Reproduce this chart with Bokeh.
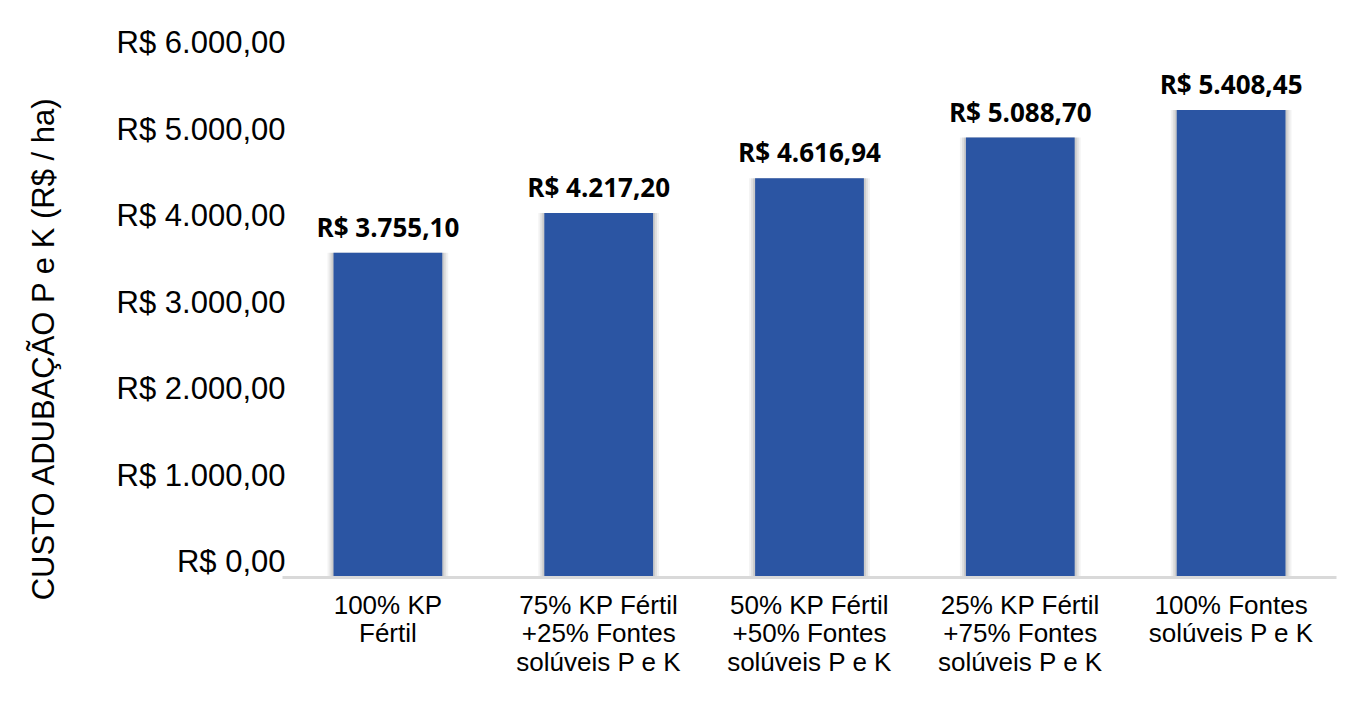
from bokeh.plotting import figure
from bokeh.models import FactorRange, Range1d, LinearAxis, FixedTicker
from bokeh.embed import file_html
from bokeh.resources import INLINE
from bokeh.core.properties import value

# ---- data -------------------------------------------------------------
categories = [
    "100% KP\nFértil",
    "75% KP Fértil\n+25% Fontes\nsolúveis P e K",
    "50% KP Fértil\n+50% Fontes\nsolúveis P e K",
    "25% KP Fértil\n+75% Fontes\nsolúveis P e K",
    "100% Fontes\nsolúveis P e K",
]
costs = [3755.10, 4217.20, 4616.94, 5088.70, 5408.45]
y_ticks = [0, 1000, 2000, 3000, 4000, 5000, 6000]
y_tick_labels = ["R$ 0,00", "R$ 1.000,00", "R$ 2.000,00", "R$ 3.000,00",
                 "R$ 4.000,00", "R$ 5.000,00", "R$ 6.000,00"]
y_title = "CUSTO ADUBAÇÃO P e K (R$ / ha)"


def brl(v):
    s = f"{v:,.2f}"
    return "R$ " + s.replace(",", "X").replace(".", ",").replace("X", ".")


value_labels = [brl(v) for v in costs]

BAR_COLOR = "#2B55A3"
BAR_W = 0.516
CAT_PX = 210.8

p = figure(
    x_range=FactorRange(*categories),
    y_range=Range1d(0, 6200),
    width=1365, height=718,
    output_backend="svg", toolbar_location=None,
    y_axis_location=None,
    min_border_left=282, min_border_right=29,
    min_border_top=41, min_border_bottom=141,
    background_fill_color="white", border_fill_color="white",
    outline_line_color=None,
)
p.grid.grid_line_color = None

# soft shadow around bars
for dw, a in [(6, 0.05), (4, 0.07), (2, 0.09)]:
    p.vbar(x=categories, top=costs, width=BAR_W + 2 * dw / CAT_PX,
           fill_color="black", fill_alpha=a, line_color=None)

p.vbar(x=categories, top=costs, width=BAR_W, fill_color=BAR_COLOR, line_color=None)

p.text(x=categories, y=costs, text=value_labels,
       text_font=value("Open Sans"), text_font_style="bold",
       text_font_size="26px", text_align="center",
       text_baseline="alphabetic", y_offset=-26, text_color="black")

# y tick labels (slightly raised, like the original) + axis title
p.extra_y_ranges = {"lbl": Range1d(-185, 6015)}
ax = LinearAxis(y_range_name="lbl", ticker=FixedTicker(ticks=y_ticks))
ax.major_label_overrides = {t: l for t, l in zip(y_ticks, y_tick_labels)}
ax.axis_line_color = None
ax.major_tick_line_color = None
ax.minor_tick_line_color = None
ax.major_tick_out = 0
ax.major_tick_in = 0
ax.minor_tick_out = 0
ax.minor_tick_in = 0
ax.major_label_standoff = -3
ax.major_label_text_font = "Liberation Sans"
ax.major_label_text_font_size = "31px"
ax.major_label_text_color = "black"
ax.axis_label = y_title + "\u00a0" * 9
ax.axis_label_standoff = 53
ax.axis_label_text_font = "Liberation Sans"
ax.axis_label_text_font_size = "31px"
ax.axis_label_text_font_style = "normal"
ax.axis_label_text_color = "black"
p.add_layout(ax, "left")

# x axis
xa = p.xaxis[0]
xa.axis_line_color = "#D9D9D9"
xa.axis_line_width = 3
xa.major_tick_line_color = None
xa.major_tick_out = 0
xa.major_tick_in = 0
xa.major_label_standoff = 12
xa.major_label_text_font = "Liberation Sans"
xa.major_label_text_font_size = "26px"
xa.major_label_text_color = "black"
xa.major_label_text_line_height = 0.965

open("out.html", "w").write(file_html(p, INLINE))
